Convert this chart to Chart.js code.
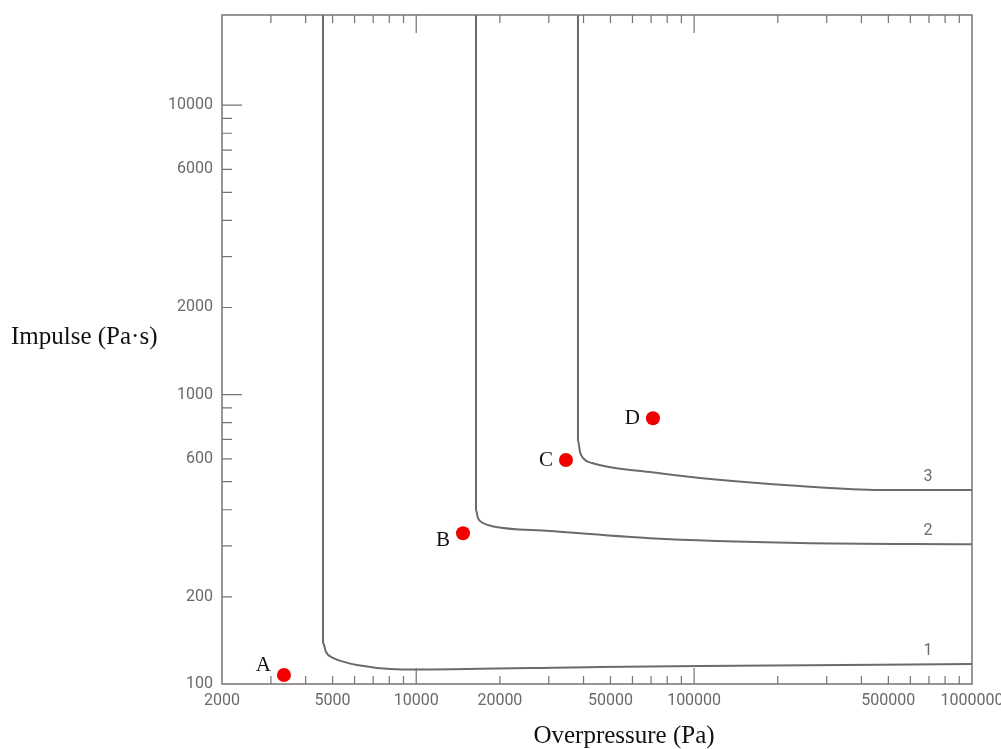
<!DOCTYPE html>
<html>
<head>
<meta charset="utf-8">
<script src="https://cdn.jsdelivr.net/npm/chart.js@4.4.1/dist/chart.umd.min.js"></script>
<style>
  html, body { margin: 0; padding: 0; background: #fff; }
  #wrap { width: 1001px; height: 749px; position: relative; }
</style>
</head>
<body>
<div id="wrap"><canvas id="chart"></canvas></div>
<script>
// eixos (escala log)
const xTickValues = [2000, 5000, 10000, 20000, 50000, 100000, 500000, 1000000];
const yTickValues = [100, 200, 600, 1000, 2000, 6000, 10000];
const xMinorTicks = [3000, 4000, 5000, 6000, 7000, 8000, 9000,
  20000, 30000, 40000, 50000, 60000, 70000, 80000, 90000,
  200000, 300000, 400000, 500000, 600000, 700000, 800000, 900000];
const xMajorTicks = [10000, 100000];
const yMinorTicks = [200, 300, 400, 500, 600, 700, 800, 900,
  2000, 3000, 4000, 5000, 6000, 7000, 8000, 9000];
const yMajorTicks = [1000, 10000];

// curvas 1, 2, 3 (sobrepressão Pa, impulso Pa·s)
const curve1P = [4618, 4618, 4734, 5017, 5542, 6122, 8045, 10318, 45800, 105000, 1000000];
const curve1I = [20500, 139, 129, 123, 119, 116.3, 112.7, 112.2, 114.5, 115.4, 117.2];
const curve2P = [16408, 16408, 16682, 17394, 18730, 30300, 69400, 240400, 1000000];
const curve2I = [20500, 399, 374, 360, 351, 338, 319, 307, 304];
const curve3P = [38200, 38200, 38840, 40140, 42900, 69400, 105000, 240400, 466600, 1000000];
const curve3I = [20500, 696, 633, 599, 580, 540, 515, 483, 468, 468];
const curveNames = ['1', '2', '3'];

// pontos A-D
const pointNames = ['A', 'B', 'C', 'D'];
const pointP = [3342, 14735, 34580, 71100];
const pointI = [107.4, 332, 594, 829];

// estilo
const lineColor = '#6f6a66';
const frameColor = '#7a736e';
const tickFont = '16px Roboto';
const tickColor = '#6a6a6a';
const labelDy = [-10, 7, 0, 0];

const zip = (xs, ys) => xs.map((x, i) => ({ x, y: ys[i] }));

const curveStyle = {
  showLine: true, borderColor: lineColor, borderWidth: 2, pointRadius: 0,
  cubicInterpolationMode: 'monotone', fill: false
};

const decor = {
  id: 'decor',
  afterDatasetsDraw(chart) {
    const { ctx, chartArea: a, scales: { x, y } } = chart;
    ctx.save();
    ctx.strokeStyle = frameColor;
    ctx.lineWidth = 1.5;
    ctx.strokeRect(a.left, a.top, a.right - a.left, a.bottom - a.top);

    ctx.lineWidth = 1.2;
    ctx.beginPath();
    xMinorTicks.concat(xMajorTicks).forEach(v => {
      const px = x.getPixelForValue(v);
      const big = xMajorTicks.includes(v);
      ctx.moveTo(px, a.bottom); ctx.lineTo(px, a.bottom - (big ? 16 : 8));
      ctx.moveTo(px, a.top); ctx.lineTo(px, a.top + (big ? 18 : 8));
    });
    yMinorTicks.concat(yMajorTicks).forEach(v => {
      const py = y.getPixelForValue(v);
      const big = yMajorTicks.includes(v);
      ctx.moveTo(a.left, py); ctx.lineTo(a.left + (big ? 20 : 10), py);
    });
    ctx.stroke();

    // números das curvas
    ctx.font = tickFont;
    ctx.fillStyle = tickColor;
    ctx.textAlign = 'center';
    ctx.textBaseline = 'bottom';
    [curve1I, curve2I, curve3I].forEach((ys, i) => {
      const py = y.getPixelForValue(ys[ys.length - 1]);
      ctx.fillText(curveNames[i], a.right - 44, py - 5);
    });

    // rótulos dos pontos
    ctx.font = '21px "Liberation Serif", serif';
    ctx.fillStyle = '#111';
    ctx.textAlign = 'right';
    ctx.textBaseline = 'middle';
    pointNames.forEach((n, i) => {
      const px = x.getPixelForValue(pointP[i]);
      const py = y.getPixelForValue(pointI[i]);
      ctx.fillText(n, px - 13, py + labelDy[i]);
    });

    // títulos dos eixos
    ctx.font = '25px "Liberation Serif", serif';
    ctx.textAlign = 'left';
    ctx.fillText('Impulse (Pa·s)', 11, 337);
    ctx.textAlign = 'center';
    ctx.fillText('Overpressure (Pa)', 624, 736);
    ctx.restore();
  }
};

new Chart(document.getElementById('chart'), {
  type: 'scatter',
  data: {
    datasets: [
      { ...curveStyle, data: zip(curve1P, curve1I) },
      { ...curveStyle, data: zip(curve2P, curve2I) },
      { ...curveStyle, data: zip(curve3P, curve3I) },
      { data: zip(pointP, pointI), pointRadius: 7, pointHoverRadius: 7,
        backgroundColor: '#f20000', borderWidth: 0, showLine: false }
    ]
  },
  options: {
    responsive: true, maintainAspectRatio: false, animation: false,
    layout: { padding: { top: 15, right: 29, left: 0, bottom: 0 } },
    plugins: { legend: { display: false }, tooltip: { enabled: false } },
    scales: {
      x: {
        type: 'logarithmic', min: 2000, max: 1000000,
        grid: { display: false, drawTicks: false }, border: { display: false },
        afterBuildTicks: s => { s.ticks = xTickValues.map(v => ({ value: v })); },
        afterFit: s => { s.height = 65; s.paddingLeft = 0; s.paddingRight = 0; },
        ticks: { autoSkip: false, maxRotation: 0, padding: 7, color: tickColor,
          font: { family: 'Roboto', size: 16 }, callback: v => String(v) }
      },
      y: {
        type: 'logarithmic', min: 100, max: 20500,
        grid: { display: false, drawTicks: false }, border: { display: false },
        afterBuildTicks: s => { s.ticks = yTickValues.map(v => ({ value: v })); },
        afterFit: s => { s.width = 222; s.paddingTop = 0; s.paddingBottom = 0; },
        ticks: { autoSkip: false, padding: 9, color: tickColor,
          font: { family: 'Roboto', size: 16 }, callback: v => String(v) }
      }
    }
  },
  plugins: [decor]
});
</script>
</body>
</html>
